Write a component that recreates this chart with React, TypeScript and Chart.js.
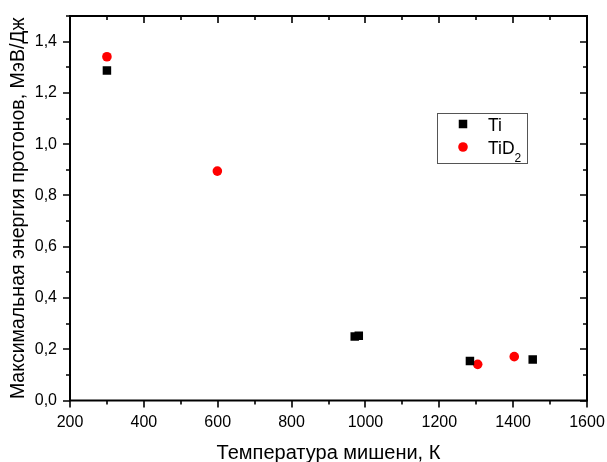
import React, { useEffect, useRef } from "react";
import { Chart, registerables } from "chart.js";

Chart.register(...registerables);

const tiX = [300, 971, 982, 1283, 1453];
const tiY = [1.287, 0.25, 0.253, 0.154, 0.16];
const tid2X = [300, 599, 1304, 1403];
const tid2Y = [1.341, 0.895, 0.141, 0.171];

const xMin = 200;
const xMax = 1600;
const xMajor = 200;
const xMinor = 100;
const yMin = 0;
const yMax = 1.5;
const yMajor = 0.2;
const yMinor = 0.1;

const xTitle = "Температура мишени, К";
const yTitle = "Максимальная энергия протонов, МэВ/Дж";
const legendLabels = ["Ti", "TiD", "2"];

const FONT = "'Liberation Sans', Arial, sans-serif";

const framePlugin = {
  id: "framePlugin",
  afterDraw(chart: any) {
    const { ctx, chartArea, scales } = chart;
    const { left, right, top, bottom } = chartArea;
    const x = scales.x;
    const y = scales.y;
    ctx.save();
    ctx.strokeStyle = "#000";
    ctx.lineWidth = 1.6;
    ctx.lineCap = "butt";
    const nx = Math.round((xMax - xMin) / xMinor);
    for (let i = 0; i <= nx; i++) {
      const v = xMin + i * xMinor;
      const px = Math.round(x.getPixelForValue(v));
      const major = Math.abs(v / xMajor - Math.round(v / xMajor)) < 1e-6;
      const outLen = major ? 7 : 4;
      const inLen = major ? 7 : 4;
      ctx.beginPath();
      ctx.moveTo(px, bottom);
      ctx.lineTo(px, bottom + outLen);
      ctx.moveTo(px, top);
      ctx.lineTo(px, top + inLen);
      ctx.stroke();
    }
    const ny = Math.round((yMax - yMin) / yMinor);
    for (let i = 0; i <= ny; i++) {
      const v = yMin + i * yMinor;
      const py = Math.round(y.getPixelForValue(v));
      const major = Math.abs(v / yMajor - Math.round(v / yMajor)) < 1e-6;
      const outLen = major ? 7 : 4;
      const inLen = major ? 7 : 4;
      ctx.beginPath();
      ctx.moveTo(left, py);
      ctx.lineTo(left - outLen, py);
      ctx.moveTo(right, py);
      ctx.lineTo(right - inLen, py);
      ctx.stroke();
    }
    ctx.lineWidth = 2;
    ctx.strokeRect(left, top, right - left, bottom - top);

    // legend box
    const bx = Math.round(left + (right - left) * 0.71);
    const by = Math.round(top + (bottom - top) * 0.251);
    const bw = 90;
    const bh = 50;
    ctx.fillStyle = "#fff";
    ctx.fillRect(bx, by, bw, bh);
    ctx.strokeStyle = "#555";
    ctx.lineWidth = 1;
    ctx.strokeRect(bx + 0.5, by + 0.5, bw, bh);
    const mx = bx + 26;
    const r1 = by + 11;
    const r2 = by + 34;
    ctx.fillStyle = "#000";
    ctx.fillRect(mx - 4.25, r1 - 4.25, 8.5, 8.5);
    ctx.fillStyle = "#ff0000";
    ctx.beginPath();
    ctx.arc(mx, r2, 4.8, 0, Math.PI * 2);
    ctx.fill();
    ctx.fillStyle = "#000";
    ctx.textBaseline = "alphabetic";
    ctx.textAlign = "left";
    ctx.font = `17.5px ${FONT}`;
    ctx.fillText(legendLabels[0], bx + 51, r1 + 7);
    ctx.fillText(legendLabels[1], bx + 51, r2 + 6.5);
    const w = ctx.measureText(legendLabels[1]).width;
    ctx.font = `12px ${FONT}`;
    ctx.fillText(legendLabels[2], bx + 51 + w, r2 + 15);
    ctx.restore();
  },
};

export default function App() {
  const ref = useRef<HTMLCanvasElement | null>(null);
  useEffect(() => {
    if (!ref.current) return;
    const chart = new Chart(ref.current, {
      type: "scatter",
      data: {
        datasets: [
          {
            label: "Ti",
            data: tiX.map((v, i) => ({ x: v, y: tiY[i] })),
            pointStyle: "rect",
            pointRadius: 6,
            pointHoverRadius: 6,
            backgroundColor: "#000",
            borderColor: "#000",
            borderWidth: 0,
          },
          {
            label: "TiD2",
            data: tid2X.map((v, i) => ({ x: v, y: tid2Y[i] })),
            pointStyle: "circle",
            pointRadius: 4.8,
            pointHoverRadius: 4.8,
            backgroundColor: "#ff0000",
            borderColor: "#ff0000",
            borderWidth: 0,
          },
        ],
      },
      options: {
        animation: false,
        responsive: false,
        maintainAspectRatio: false,
        layout: { padding: { top: 16, right: 20, left: 0, bottom: 0 } },
        plugins: { legend: { display: false }, tooltip: { enabled: false } },
        scales: {
          x: {
            type: "linear",
            min: xMin,
            max: xMax,
            grid: { display: false, drawTicks: false },
            border: { display: false },
            afterFit: (s: any) => {
              s.height = 61.5;
              s.paddingLeft = 0;
              s.paddingRight = 0;
            },
            ticks: {
              stepSize: xMajor,
              padding: 12,
              color: "#000",
              font: { family: FONT, size: 16 },
              maxRotation: 0,
              autoSkip: false,
              callback: (v: any) => String(v),
            },
            title: {
              display: true,
              text: xTitle,
              color: "#000",
              font: { family: FONT, size: 20 },
              padding: { top: 0, bottom: -3 },
            },
          },
          y: {
            type: "linear",
            min: yMin,
            max: yMax,
            grid: { display: false, drawTicks: false },
            border: { display: false },
            afterFit: (s: any) => {
              s.width = 70;
              s.paddingTop = 0;
              s.paddingBottom = 0;
            },
            ticks: {
              stepSize: yMajor,
              padding: 13,
              color: "#000",
              font: { family: FONT, size: 16 },
              autoSkip: false,
              callback: (v: any) => {
                const n = Number(v);
                if (Math.abs(n / yMajor - Math.round(n / yMajor)) > 1e-6) return null;
                return n.toFixed(1).replace(".", ",");
              },
            },
            title: {
              display: true,
              text: yTitle,
              color: "#000",
              font: { family: FONT, size: 19.5 },
              padding: { top: 7, bottom: 0 },
            },
          },
        },
      },
      plugins: [framePlugin],
    });
    return () => chart.destroy();
  }, []);
  return (
    <div style={{ position: "absolute", left: 0, top: 0, width: 607, height: 462, background: "#fff", overflow: "hidden" }}>
      <canvas ref={ref} width={607} height={462} style={{ display: "block" }} />
    </div>
  );
}
